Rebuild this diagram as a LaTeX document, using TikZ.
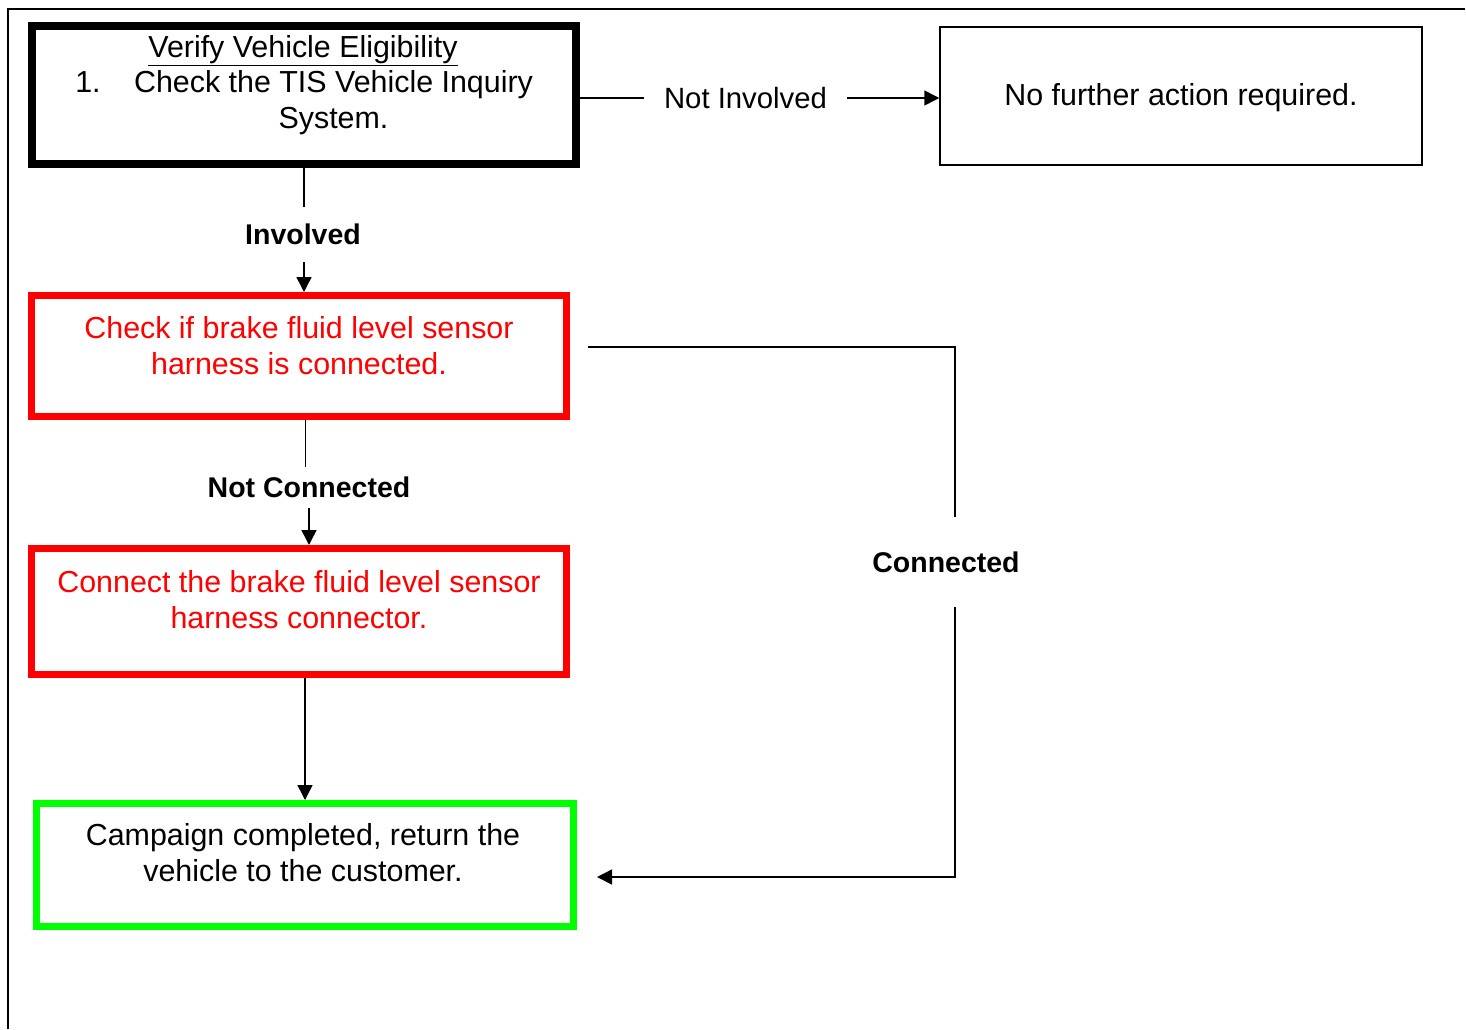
\documentclass[tikz,border=0pt]{standalone}
\usepackage{fontspec}
\setmainfont{Liberation Sans}
\usetikzlibrary{arrows.meta,calc}
\definecolor{boxred}{RGB}{255,0,0}
\definecolor{boxgreen}{RGB}{0,255,0}
\tikzset{
  txt/.style={inner sep=0pt, font=\fontsize{30.4}{36}\selectfont, align=center, anchor=base},
  lbl/.style={inner xsep=0pt, font=\fontsize{28.5}{34}\selectfont\bfseries},
  thinlbl/.style={inner ysep=0pt, font=\fontsize{29.3}{36}\selectfont},
  box/.style={draw, inner sep=0pt},
  conn/.style={line width=1.5pt},
  arr/.style={conn, -{Triangle[length=15pt,width=15pt]}},
}
\begin{document}
\begin{tikzpicture}[x=1pt,y=-1pt]
\useasboundingbox (0,0) rectangle (1466,1029);
% page frame
\draw[line width=2pt] (8,1029) -- (8,8.5) -- (1465,8.5);
% boxes
\node[box, line width=8pt, minimum width=544pt, minimum height=138pt] (A) at (304,95) {};
\node[box, line width=1.5pt, minimum width=482pt, minimum height=138pt] (B) at (1181,96) {};
\node[box, draw=boxred, line width=7pt, minimum width=535pt, minimum height=121pt] (C) at (299,356) {};
\node[box, draw=boxred, line width=7pt, minimum width=535pt, minimum height=126pt] (D) at (299,611.5) {};
\node[box, draw=boxgreen, line width=7pt, minimum width=537pt, minimum height=123pt] (E) at (305,865) {};
% box texts (base anchor = baseline of the last line)
\node[txt] (Atitle) at (303,57) {\underline{Verify Vehicle Eligibility}};
\node[txt] (Anum) at (88,92) {1.};
\node[txt] (Atext) at (333.5,128) {Check the TIS Vehicle Inquiry\\System.};
\node[txt] (Btext) at (1181,105) {No further action required.};
\node[txt, text=boxred] (Ctext) at (299,374) {Check if brake fluid level sensor\\harness is connected.};
\node[txt, text=boxred] (Dtext) at (299,628) {Connect the brake fluid level sensor\\harness connector.};
\node[txt] (Etext) at (303,881) {Campaign completed, return the\\vehicle to the customer.};
% labels
\node[thinlbl, inner xsep=20pt] (ni) at (745.5,98) {Not Involved};
\node[lbl, inner ysep=17pt] (inv) at (303,234.5) {Involved};
\node[lbl, inner ysep=10pt] (nc) at (309,487.5) {Not Connected};
\node[lbl, inner ysep=34.5pt] (cn) at (946,562) {Connected};
% connectors
\draw[conn] (A.east |- ni.west) -- (ni.west);
\draw[arr] (ni.east) -- (B.west |- ni.east);
\draw[conn] (A.south -| 304,0) -- (inv.north -| 304,0);
\draw[arr] (inv.south -| 304,0) -- (C.north -| 304,0);
\draw[conn] ([xshift=-3.5pt]nc.north |- C.south) -- ([xshift=-3.5pt]nc.north);
\draw[arr] (nc.south) -- (nc.south |- D.north);
\draw[arr] (D.south -| E.north) -- (E.north);
\coordinate (c1) at (588,347);
\coordinate (c2) at (597,877);
\draw[conn] (c1) -| ([xshift=9pt]cn.north);
\draw[arr] ([xshift=9pt]cn.south) |- (c2);
\end{tikzpicture}
\end{document}
